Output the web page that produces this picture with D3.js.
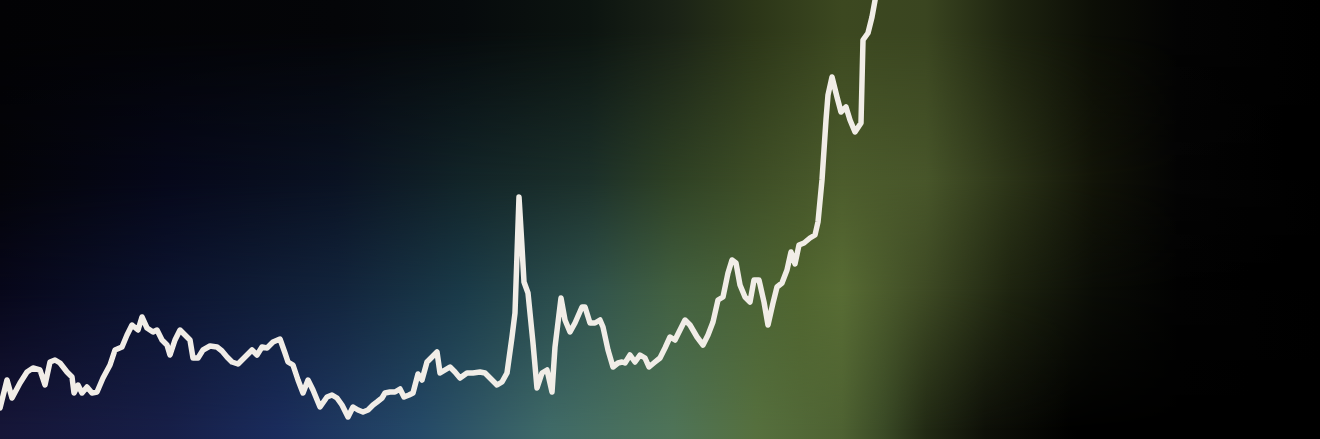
<!DOCTYPE html>
<html>
<head>
<meta charset="utf-8">
<script src="https://cdn.jsdelivr.net/npm/d3@7"></script>
<style>
  html, body { margin: 0; padding: 0; background: #000; overflow: hidden; }
  svg { display: block; }
</style>
</head>
<body>
<svg id="chart" width="1320" height="439"></svg>
<script>
// Time index (x) and index level (y)
const t = [0,7,12,20,27,33,40,45,50,55,60,67,72,74,78,82,87,92,97,103,110,115,122,127,132,138,142,147,153,157,162,167,170,175,180,187,190,193,198,203,210,217,222,227,232,238,245,252,257,262,267,273,280,285,288,293,298,303,308,313,320,327,332,337,342,348,353,358,363,368,373,377,382,385,390,395,400,404,409,413,418,422,427,432,437,440,445,450,455,460,467,473,480,485,492,497,502,507,512,515,519,522,524,528,533,537,542,547,552,555,561,565,570,575,582,585,590,595,600,603,608,613,618,622,625,630,635,640,645,649,655,660,665,670,675,680,685,690,697,703,708,713,718,723,728,732,736,740,745,750,754,759,764,768,773,777,782,787,791,795,799,804,810,815,818,822,826,828,832,837,841,846,850,855,861,863,868,872,876,880];
const v = [32,60,42,57,68,72,70,55,78,80,77,68,63,47,55,47,53,47,48,62,75,90,93,105,115,110,123,112,108,110,100,95,85,100,110,103,100,82,82,90,94,93,89,83,78,76,83,90,85,93,92,98,101,87,78,75,60,47,60,50,33,43,45,42,35,23,33,30,28,30,35,38,42,47,48,48,51,43,45,47,66,60,78,83,88,67,70,73,68,62,67,67,68,67,60,55,58,67,103,127,243,193,158,147,97,52,67,70,48,93,142,120,108,117,133,133,117,117,120,113,90,73,77,78,77,85,78,85,82,73,78,82,92,103,100,110,120,115,103,95,105,118,140,143,167,180,177,155,143,138,160,160,138,115,137,153,157,170,188,176,195,197,202,205,218,260,320,345,363,343,328,333,320,308,317,400,407,423,445,470];

const xDomain = [0, 1320];
const yDomain = [0, 440];

// Background palette: colour along x, sampled at four heights
const bgBottomX = [0,168,278,420,547,673,757,842,884,926,985,1077,1320];
const bgBottomC = ["#161638","#171f48","#1a2c5c","#254a68","#3f6a68","#4f7458","#56703e","#4e6232","#3a4a26","#222a14","#0e1008","#000000","#000000"];
const bgLowX = [0,168,337,463,589,673,800,842,926,1010,1094,1178,1320];
const bgLowC = ["#07071a","#0c1430","#12243c","#1a3a48","#30524c","#426040","#50652f","#586c34","#3e4a24","#1e2410","#0a0c06","#020202","#000000"];
const bgMidX = [0,168,337,463,589,673,757,842,926,1010,1094,1178,1320];
const bgMidC = ["#040409","#06081a","#0a1222","#122428","#1c302a","#2e4024","#3e4e26","#4c5c2c","#48562a","#2c3418","#121408","#040404","#000000"];
const bgTopX = [0,337,463,589,673,757,842,926,1010,1094,1178,1320];
const bgTopC = ["#020204","#040508","#060a0c","#0c1410","#1a2216","#2c3618","#3c4820","#3a4520","#1e2410","#0c0e06","#030303","#000000"];

const W = 1320, H = 439;
const svg = d3.select("#chart");
const defs = svg.append("defs");

// layers: [xs, colours, row y where fully opaque (above), row y where it vanishes (below)]
const layers = [
  [bgBottomX, bgBottomC, null, null],
  [bgLowX, bgLowC, 290, 430],
  [bgMidX, bgMidC, 180, 290],
  [bgTopX, bgTopC, 30, 180]
];

layers.forEach(([xs, cs, yFull, yZero], i) => {
  const g = defs.append("linearGradient").attr("id", "row" + i)
    .attr("gradientUnits", "userSpaceOnUse")
    .attr("x1", 0).attr("y1", 0).attr("x2", W).attr("y2", 0);
  xs.forEach((xx, j) => g.append("stop").attr("offset", xx / W).attr("stop-color", cs[j]));
  const r = svg.append("rect").attr("width", W).attr("height", H).attr("fill", `url(#row${i})`);
  if (yFull !== null) {
    const mg = defs.append("linearGradient").attr("id", "mg" + i)
      .attr("gradientUnits", "userSpaceOnUse")
      .attr("x1", 0).attr("y1", yFull).attr("x2", 0).attr("y2", yZero);
    mg.append("stop").attr("offset", 0).attr("stop-color", "#fff");
    mg.append("stop").attr("offset", 1).attr("stop-color", "#000");
    const m = defs.append("mask").attr("id", "mask" + i)
      .attr("maskUnits", "userSpaceOnUse")
      .attr("x", 0).attr("y", 0).attr("width", W).attr("height", H);
    m.append("rect").attr("width", W).attr("height", H).attr("fill", `url(#mg${i})`);
    r.attr("mask", `url(#mask${i})`);
  }
});

const x = d3.scaleLinear().domain(xDomain).range([0, W]);
const y = d3.scaleLinear().domain(yDomain).range([440, 0]);

const data = t.map((d, i) => ({ t: d, v: v[i] }));
const line = d3.line().x(d => x(d.t)).y(d => y(d.v));

svg.append("path")
  .datum(data)
  .attr("fill", "none")
  .attr("stroke", "#f1ede7")
  .attr("stroke-width", 5.5)
  .attr("stroke-linejoin", "round")
  .attr("stroke-linecap", "round")
  .attr("d", line);
</script>
</body>
</html>
